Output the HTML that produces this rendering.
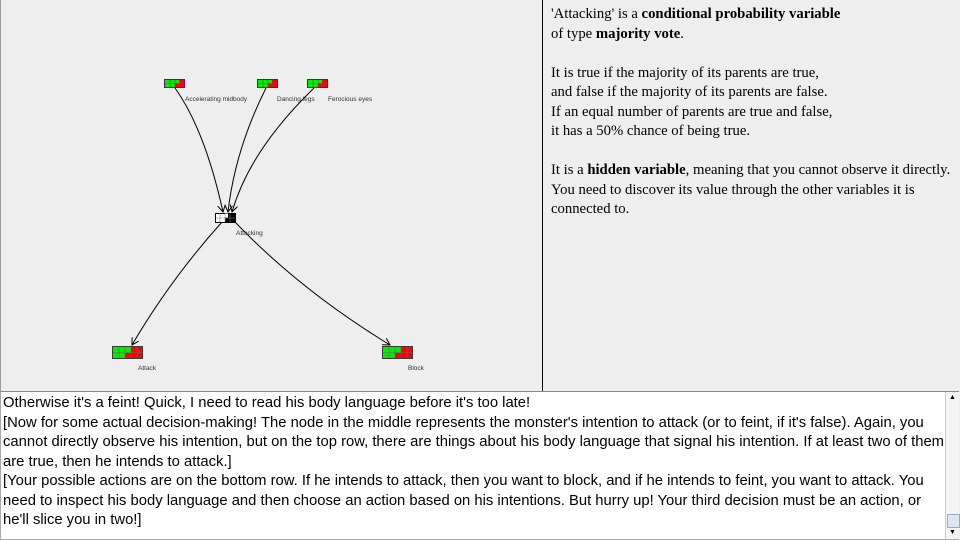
<!DOCTYPE html>
<html><head><meta charset="utf-8"><style>
body{margin:0;width:960px;height:540px;overflow:hidden;background:#eeeeee;position:relative;font-family:"Liberation Sans",sans-serif}
#g{position:absolute;left:0;top:0}
#rt{position:absolute;left:551px;top:5px;font-family:"Liberation Serif",serif;font-size:14.7px;line-height:19.5px;color:#000}
#rt p{margin:0 0 19.5px 0}
#bt{position:absolute;left:0;top:391px;width:958px;height:147px;background:#fff;border-top:1px solid #888;border-left:1px solid #aaa;border-bottom:1px solid #aaa}
.tx{position:absolute;left:2px;top:2px;width:945px;font-size:14.8px;line-height:19.5px;color:#000}
.sb{position:absolute;right:0;top:0;width:13px;height:147px;background:#f4f4f4;border-left:1px solid #ccc}
.sb span{position:absolute;left:0;width:13px;height:12px;font-size:7px;text-align:center;line-height:12px}
</style></head><body>
<svg id="g" width="960" height="392" xmlns="http://www.w3.org/2000/svg">
<defs><marker id="a" markerWidth="8" markerHeight="8" refX="7" refY="4" orient="auto" markerUnits="userSpaceOnUse"><path d="M0,0 L7,4 L0,8" fill="none" stroke="#000" stroke-width="1"/></marker></defs>
<line x1="542.5" y1="0" x2="542.5" y2="392" stroke="#000"/>
<line x1="0.5" y1="0" x2="0.5" y2="392" stroke="#999"/>
<g stroke="#000" stroke-width="1" fill="none" marker-end="url(#a)">
<path d="M175,88 Q205,130 223,212"/>
<path d="M266,88 Q235,150 228,212"/>
<path d="M314,88 Q250,150 232,212"/>
<path d="M222,222 Q170,280 132,345"/>
<path d="M235,222 Q300,290 390,345"/>
</g>
<g id="tn">
<rect x="164" y="79" width="21" height="9" fill="#800080"/>
<rect x="165" y="80" width="10" height="7" fill="#00ee00"/><rect x="175" y="80" width="9" height="7" fill="#ff0000"/>
<rect x="175" y="80" width="4" height="3.5" fill="#00ee00"/>
<path d="M170,80V87M175,80V87M179.5,80V87M165,83.5H184" stroke="#555" stroke-width="0.6"/>
</g>
<use href="#tn" x="93"/>
<use href="#tn" x="143"/>
<rect x="215.5" y="213.5" width="20" height="9" fill="#fff" stroke="#000"/>
<rect x="225" y="213.5" width="10.5" height="9" fill="#000"/>
<rect x="225" y="213.5" width="3" height="4" fill="#fff"/>
<path d="M220,214V222M225,214V222M230,214V222M216,218H235" stroke="#888" stroke-width="0.6"/>
<g id="bn">
<rect x="112.5" y="346.5" width="30" height="12" fill="#00ee00" stroke="#3a3a3a"/>
<rect x="131" y="347" width="11" height="11" fill="#ff0000"/>
<rect x="125" y="353" width="6" height="5" fill="#ff0000"/>
<path d="M119,347V358M125,347V358M131,347V358M137,347V358M113,352.5H142" stroke="#666" stroke-width="0.6"/>
</g>
<use href="#bn" x="270"/>
<g font-family="Liberation Sans,sans-serif" font-size="6.5" fill="#333">
<text x="185" y="101">Accelerating midbody</text>
<text x="277" y="101">Dancing legs</text>
<text x="328" y="101">Ferocious eyes</text>
<text x="236" y="235">Attacking</text>
<text x="138" y="370">Attack</text>
<text x="408" y="370">Block</text>
</g>
</svg>
<div id="rt">
<p>'Attacking' is a <b>conditional probability variable</b><br>of type <b>majority vote</b>.</p>
<p>It is true if the majority of its parents are true,<br>and false if the majority of its parents are false.<br>If an equal number of parents are true and false,<br>it has a 50% chance of being true.</p>
<p>It is a <b>hidden variable</b>, meaning that you cannot observe it directly.<br>You need to discover its value through the other variables it is<br>connected to.</p>
</div>
<div id="bt"><div class="tx">Otherwise it's a feint! Quick, I need to read his body language before it's too late!<br>[Now for some actual decision-making! The node in the middle represents the monster's intention to attack (or to feint, if it's false). Again, you cannot directly observe his intention, but on the top row, there are things about his body language that signal his intention. If at least two of them are true, then he intends to attack.]<br>[Your possible actions are on the bottom row. If he intends to attack, then you want to block, and if he intends to feint, you want to attack. You need to inspect his body language and then choose an action based on his intentions. But hurry up! Your third decision must be an action, or he'll slice you in two!]</div>
<div class="sb"><span style="top:0">▲</span><span style="top:122px;left:1px;width:11px;background:#dde6f0;border:1px solid #9ab"></span><span style="bottom:0">▼</span></div>
</div>
</body></html>
